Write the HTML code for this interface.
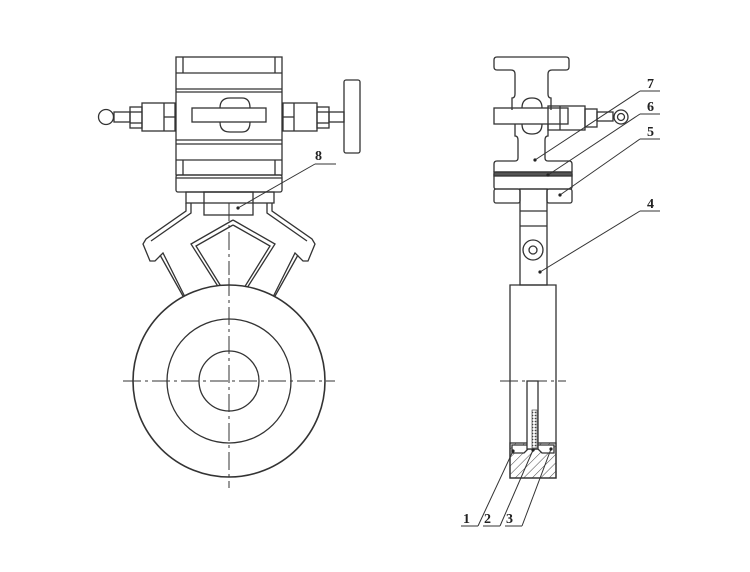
<!DOCTYPE html>
<html><head><meta charset="utf-8"><style>
html,body{margin:0;padding:0;background:#fff;width:750px;height:572px;overflow:hidden}
svg{display:block}
text{font-family:"Liberation Serif",serif;font-weight:bold;font-size:14px;fill:#222}
</style></head><body>
<svg width="750" height="572" viewBox="0 0 750 572" xmlns="http://www.w3.org/2000/svg">
<defs>
<pattern id="h" width="6" height="6" patternUnits="userSpaceOnUse" patternTransform="rotate(45)">
<line x1="0" y1="0" x2="0" y2="6" stroke="#444" stroke-width="1"/></pattern>
<pattern id="d" width="3" height="3" patternUnits="userSpaceOnUse"><circle cx="1.5" cy="1.5" r="0.9" fill="#444"/></pattern>
</defs>
<g fill="none" stroke="#333" stroke-width="1.3">
<!-- LEFT VIEW -->
<!-- manifold block -->
<rect x="176" y="57" width="106" height="118"/>
<line x1="183" y1="57" x2="183" y2="73"/><line x1="275" y1="57" x2="275" y2="73"/>
<line x1="176" y1="73" x2="282" y2="73"/>
<line x1="176" y1="89" x2="282" y2="89"/><line x1="176" y1="92" x2="282" y2="92"/>
<line x1="176" y1="140" x2="282" y2="140"/><line x1="176" y1="144" x2="282" y2="144"/>
<line x1="176" y1="160" x2="282" y2="160"/>
<line x1="183" y1="160" x2="183" y2="175"/><line x1="275" y1="160" x2="275" y2="175"/>
<rect x="176" y="175" width="106" height="17" rx="2"/>
<line x1="176" y1="178" x2="282" y2="178"/>
<rect x="186" y="192" width="88" height="11"/>
<rect x="204" y="192" width="49" height="23"/>
<!-- handle bar -->
<rect x="192" y="108" width="74" height="14"/>
<path d="M220 108 q0-10 10-10 h12 q8 0 8 10 M220 122 q0 10 10 10 h12 q8 0 8-10"/>
<!-- left fittings -->
<rect x="142" y="103" width="33" height="28"/>
<line x1="164" y1="103" x2="164" y2="131"/><line x1="164" y1="117" x2="175" y2="117"/>
<rect x="130" y="107" width="12" height="21"/>
<line x1="130" y1="112" x2="142" y2="112"/><line x1="130" y1="123" x2="142" y2="123"/>
<rect x="114" y="112" width="16" height="10"/>
<circle cx="106" cy="117" r="7.5"/>
<!-- right fittings -->
<rect x="283" y="103" width="34" height="28"/>
<line x1="294" y1="103" x2="294" y2="131"/><line x1="283" y1="117" x2="294" y2="117"/>
<rect x="317" y="107" width="12" height="21"/>
<line x1="317" y1="112" x2="329" y2="112"/><line x1="317" y1="123" x2="329" y2="123"/>
<rect x="329" y="112" width="15" height="10"/>
<rect x="344" y="80" width="16" height="73" rx="2"/>
<!-- yoke -->
<path d="M186 203 v8 l-40 28 l-3 5 l7 17 l5 0 l8-8 l22 44"/>
<path d="M191 203 v10 l-40 28 M160 255 l28 50"/>
<path d="M272 203 v8 l40 28 l3 5 l-7 17 l-5 0 l-8-8 l-22 44"/>
<path d="M267 203 v10 l40 28 M298 255 l-28 50"/>
<path d="M233 220 l-42 24 l28 44 M233 220 l42 24 l-28 44"/>
<path d="M233 225 l-37 21 l26 42 M233 225 l37 21 l-26 42"/>
<!-- disc -->
<circle cx="229" cy="381" r="96" fill="#fff" stroke-width="1.6"/>
<circle cx="229" cy="381" r="62"/>
<circle cx="229" cy="381" r="30"/>
</g>
<g stroke="#333" stroke-width="1" stroke-dasharray="18,4,3,4" fill="none">
<line x1="123" y1="381" x2="335" y2="381"/>
<line x1="229" y1="278" x2="229" y2="488"/>
<line x1="229" y1="203" x2="229" y2="275"/>
</g>
<!-- label 8 -->
<g stroke="#333" stroke-width="1" fill="none">
<line x1="315" y1="164" x2="336" y2="164"/><line x1="315" y1="164" x2="238" y2="208"/>
</g>
<circle cx="238" cy="208" r="1.6" fill="#222"/>
<text x="315" y="160">8</text>

<!-- RIGHT VIEW -->
<g fill="none" stroke="#333" stroke-width="1.3">
<path d="M497 57 h69 q3 0 3 3 v7 q0 3-3 3 h-14 q-4 0-4 4 v20 q0 4 3 4 v12 M497 57 q-3 0-3 3 v7 q0 3 3 3 h14 q4 0 4 4 v20 q0 4-3 4 v12"/>
<path d="M515 124 v12 q3 0 3 4 v18 q0 3-3 3 h-18 q-3 0-3 3 v8 M548 124 v12 q-3 0-3 4 v18 q0 3 3 3 h21 q3 0 3 3 v8"/>
<rect x="494" y="108" width="74" height="16"/>
<path d="M522 108 q0-10 10-10 q10 0 10 10 M522 124 q0 10 10 10 q10 0 10-10"/>
<rect x="548" y="106" width="37" height="24"/>
<line x1="560" y1="106" x2="560" y2="130"/>
<rect x="585" y="109" width="12" height="18"/>
<rect x="597" y="112" width="16" height="9"/>
<circle cx="621" cy="117" r="7"/><circle cx="621" cy="117" r="3.5"/>
<rect x="494" y="172" width="78" height="17" rx="2"/>
<rect x="494" y="172" width="78" height="4" fill="#555"/>
<rect x="494" y="189" width="26" height="14" rx="2"/>
<rect x="547" y="189" width="25" height="14" rx="2"/>
<rect x="520" y="189" width="27" height="96"/>
<line x1="520" y1="211" x2="547" y2="211"/><line x1="520" y1="226" x2="547" y2="226"/>
<circle cx="533" cy="250" r="10"/><circle cx="533" cy="250" r="4"/>
<path d="M520 285 h-10 v193 h46 v-193 h-9"/>
<line x1="520" y1="285" x2="547" y2="285"/>
<rect x="510" y="443" width="46" height="35" fill="url(#h)"/>
<path d="M512 445 v8 h12 l4 -4 h10 l4 4 h12 v-8 z" fill="#fff"/>
<rect x="527" y="381" width="11" height="68" fill="#fff"/>
<rect x="532" y="410" width="5" height="38" fill="url(#d)" stroke-width="0.6"/>
</g>
<g stroke="#333" stroke-width="1" stroke-dasharray="18,4,3,4" fill="none">
<line x1="500" y1="381" x2="566" y2="381"/>
</g>
<!-- leaders 4-7 -->
<g stroke="#333" stroke-width="1" fill="none">
<line x1="640" y1="91" x2="660" y2="91"/><line x1="640" y1="91" x2="535" y2="160"/>
<line x1="640" y1="114" x2="660" y2="114"/><line x1="640" y1="114" x2="548" y2="175"/>
<line x1="640" y1="139" x2="660" y2="139"/><line x1="640" y1="139" x2="560" y2="195"/>
<line x1="640" y1="211" x2="660" y2="211"/><line x1="640" y1="211" x2="540" y2="272"/>
<line x1="461" y1="526" x2="478" y2="526"/><line x1="478" y1="526" x2="513" y2="451"/>
<line x1="483" y1="526" x2="500" y2="526"/><line x1="500" y1="526" x2="533" y2="450"/>
<line x1="505" y1="526" x2="522" y2="526"/><line x1="522" y1="526" x2="551" y2="449"/>
</g>
<g fill="#222">
<circle cx="535" cy="160" r="1.6"/><circle cx="548" cy="175" r="1.6"/><circle cx="560" cy="195" r="1.6"/><circle cx="540" cy="272" r="1.6"/>
<circle cx="513" cy="451" r="1.6"/><circle cx="533" cy="450" r="1.6"/><circle cx="551" cy="449" r="1.6"/>
</g>
<text x="647" y="88">7</text><text x="647" y="111">6</text><text x="647" y="136">5</text><text x="647" y="208">4</text>
<text x="463" y="523">1</text><text x="484" y="523">2</text><text x="506" y="523">3</text>
</svg>
</body></html>
